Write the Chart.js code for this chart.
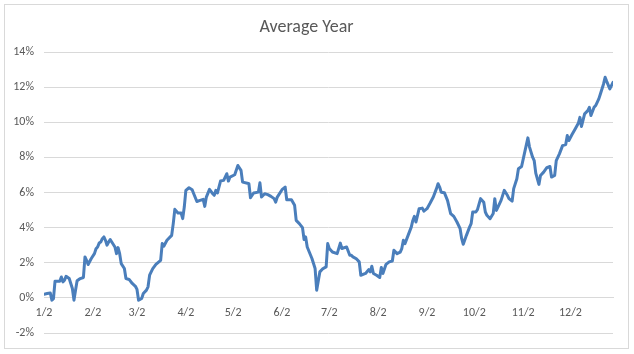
<!DOCTYPE html>
<html>
<head>
<meta charset="utf-8">
<script src="https://cdn.jsdelivr.net/npm/chart.js@4/dist/chart.umd.min.js"></script>
<style>
  html, body { margin: 0; padding: 0; background: #ffffff; }
  #wrap { position: relative; width: 634px; height: 354px; }
  #frame { position: absolute; left: 4px; top: 4px; width: 623px; height: 343px; border: 1px solid #d9d9d9; pointer-events: none; }
  canvas { position: absolute; left: 0; top: 0; }
</style>
</head>
<body>
<div id="wrap">
  <canvas id="c" width="634" height="354"></canvas>
  <div id="frame"></div>
</div>
<script>
// Days counted from Jan 2 (x values) and average cumulative return in % (y values)
const days = [0,2,4,5,6,7,10,11,12,13,14,16,17,18,19,20,21,23,25,26,27,28,30,32,33,34,35,36,37,38,39,40,41,42,43,45,46,47,48,49,51,52,54,56,58,59,60,62,63,65,66,67,69,71,74,75,76,78,81,82,83,85,87,88,89,90,92,94,95,97,99,101,102,103,105,107,108,109,110,112,114,116,117,118,121,123,125,126,129,130,131,133,136,137,138,140,142,144,146,147,148,151,153,154,157,159,160,162,164,165,166,167,170,172,173,175,177,179,180,181,183,186,188,189,192,194,195,196,198,200,201,204,206,207,208,209,211,213,214,215,217,219,221,222,224,226,227,228,229,231,233,234,235,236,238,240,241,243,245,247,249,250,251,252,254,256,258,260,262,264,265,266,268,270,271,272,274,275,277,279,280,281,283,285,286,287,288,290,292,294,295,297,298,300,301,303,305,307,308,310,311,312,314,315,317,319,321,322,324,325,327,329,331,332,333,335,337,339,340,341,343,345,346,347,349,350,352,353,355,356,357,359,361];
const returns = [0.21,0.25,0.28,-0.13,-0.04,0.95,0.95,1.19,0.91,1.0,1.23,1.1,0.82,0.53,-0.13,0.44,0.97,1.1,1.16,2.33,2.14,1.9,2.24,2.52,2.8,2.9,3.12,3.18,3.37,3.47,3.28,3.0,3.18,3.32,3.18,2.9,2.52,2.86,2.52,1.95,1.67,1.1,1.05,0.82,0.66,0.48,-0.13,-0.03,0.25,0.44,0.63,1.29,1.67,1.91,2.14,3.09,2.94,3.28,3.56,4.23,5.04,4.83,4.83,4.51,5.17,6.12,6.27,6.16,5.93,5.49,5.55,5.61,5.21,5.74,6.18,5.93,5.84,6.12,5.97,6.65,6.69,7.07,6.65,6.88,7.01,7.54,7.26,6.59,6.53,6.5,5.7,5.97,6.02,6.55,5.74,5.93,5.88,5.78,5.65,5.45,5.74,6.16,6.31,5.59,5.59,5.27,4.41,4.23,4.0,3.32,3.47,2.9,2.24,1.67,0.44,1.48,1.67,1.76,3.09,2.81,2.61,2.52,3.12,2.81,2.9,2.43,2.43,2.33,2.24,2.05,1.29,1.39,1.61,1.48,1.8,1.39,1.29,1.16,1.73,1.39,1.91,2.05,2.1,2.71,2.52,2.61,2.81,3.28,3.09,3.56,4.03,4.41,4.64,4.32,5.08,5.11,4.94,5.08,5.4,5.74,6.22,6.5,6.31,6.02,5.99,5.55,4.8,4.64,4.32,3.94,3.37,3.05,3.56,4.03,4.23,4.89,4.89,5.02,5.65,5.45,4.89,4.7,4.51,4.8,5.65,4.98,5.17,5.55,6.12,5.84,5.65,5.51,6.22,6.78,7.35,7.48,8.3,9.11,8.6,8.01,7.82,7.1,6.46,6.97,7.16,7.41,7.48,6.88,6.97,7.82,8.2,8.67,8.73,9.24,8.96,9.3,9.62,9.94,10.28,9.76,10.48,10.66,10.85,10.38,10.85,10.95,11.33,11.61,12.18,12.56,12.33,11.9,12.27];
const tickDays = [0,31,59,90,120,151,181,212,243,273,304,334];
const tickLabels = ['1/2','2/2','3/2','4/2','5/2','6/2','7/2','8/2','9/2','10/2','11/2','12/2'];
const yTicks = [-2,0,2,4,6,8,10,12,14];

const points = days.map((d, i) => ({ x: d, y: returns[i] }));
const fontStack = "Carlito, Lato, 'Open Sans', sans-serif";

new Chart(document.getElementById('c'), {
  type: 'line',
  data: {
    datasets: [{
      data: points,
      borderColor: '#4a7ebb',
      borderWidth: 3,
      pointRadius: 0,
      tension: 0,
      borderJoinStyle: 'round',
      borderCapStyle: 'round',
      fill: false
    }]
  },
  options: {
    responsive: false,
    animation: false,
    devicePixelRatio: 1,
    layout: { padding: { left: 0, right: 21, top: 0, bottom: 21 } },
    plugins: {
      legend: { display: false },
      tooltip: { enabled: false },
      title: {
        display: true,
        text: 'Average Year',
        color: '#595959',
        font: { family: fontStack, size: 18, weight: '300', lineHeight: 1.2 },
        padding: { top: 17, bottom: 13.4 }
      }
    },
    scales: {
      x: {
        type: 'linear',
        min: 0,
        max: 361,
        position: { y: 0 },
        grid: { display: false, drawTicks: false },
        border: { display: true, color: '#d9d9d9', width: 1 },
        afterBuildTicks: (scale) => { scale.ticks = tickDays.map(v => ({ value: v })); },
        afterFit: (scale) => { scale.height = 0; },
        ticks: {
          autoSkip: false,
          maxRotation: 0,
          padding: 8,
          color: '#595959',
          font: { family: fontStack, size: 12 },
          callback: (v) => tickLabels[tickDays.indexOf(v)] ?? ''
        }
      },
      y: {
        min: -2,
        max: 14,
        afterBuildTicks: (scale) => { scale.ticks = yTicks.map(v => ({ value: v })); },
        afterFit: (scale) => { scale.width = 44; },
        grid: { color: '#d9d9d9', lineWidth: 1, drawTicks: false },
        border: { display: false },
        ticks: {
          padding: 10,
          color: '#595959',
          font: { family: fontStack, size: 12 },
          callback: (v) => v + '%'
        }
      }
    }
  }
});
</script>
</body>
</html>
